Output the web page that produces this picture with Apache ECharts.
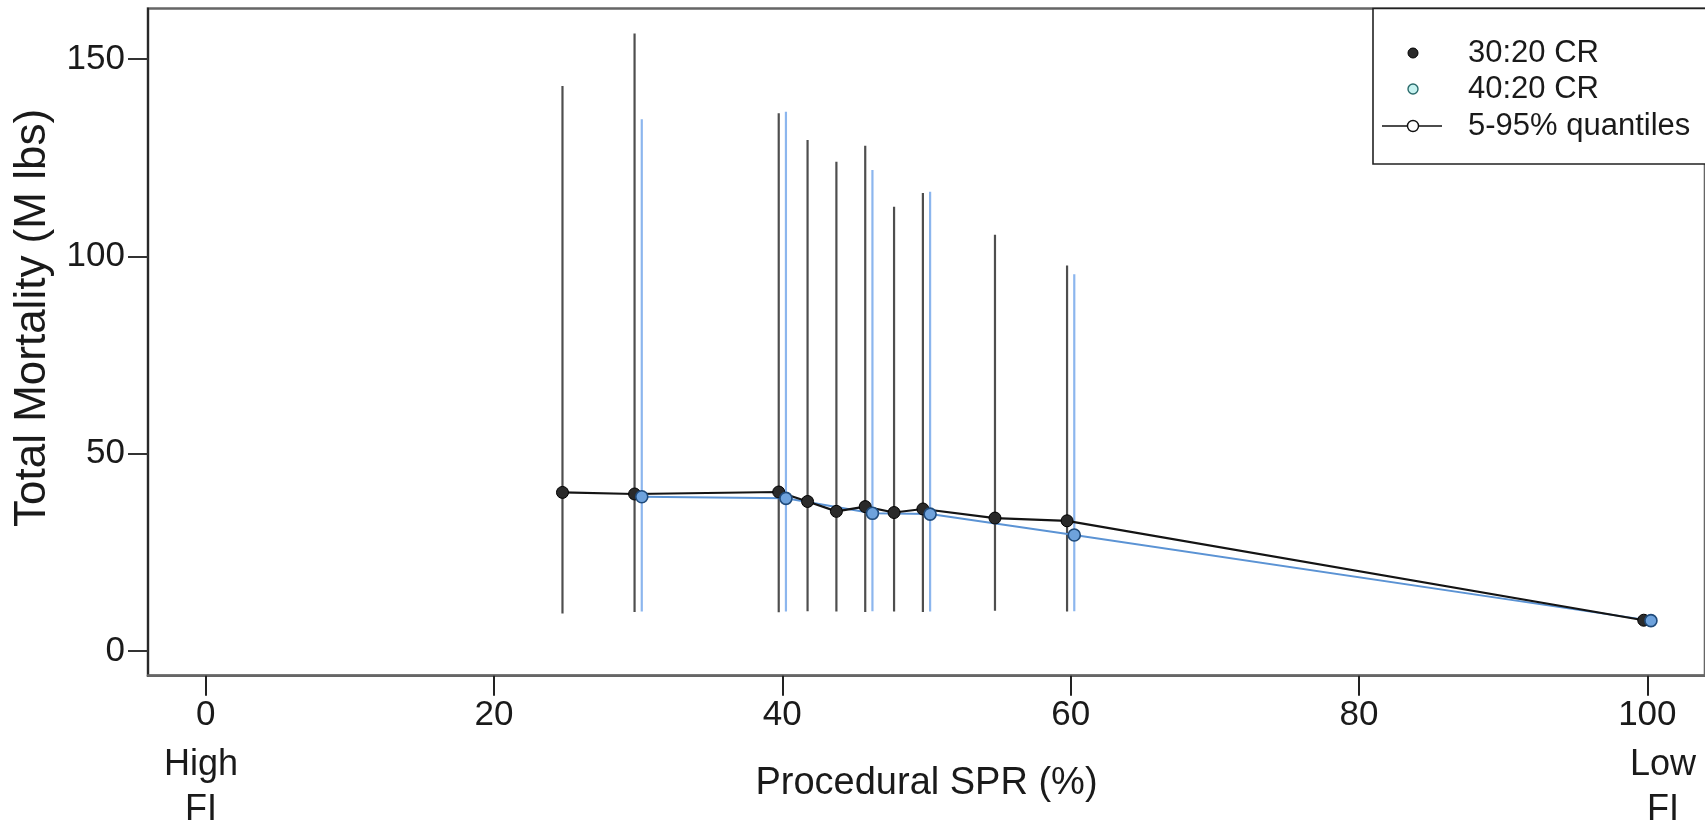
<!DOCTYPE html>
<html>
<head>
<meta charset="utf-8">
<script src="https://cdn.jsdelivr.net/npm/echarts@6/dist/echarts.min.js"></script>
<style>
  html, body { margin: 0; padding: 0; background: #fff; }
  #chart { width: 1705px; height: 830px; }
</style>
</head>
<body>
<div id="chart"></div>
<script>
// ---- data ----
const xTicks = [0, 20, 40, 60, 80, 100];
const yTicks = [0, 50, 100, 150];

// 30:20 CR (black)
const spr3020  = [24.75, 29.75, 39.75, 41.75, 43.75, 45.75, 47.75, 49.75, 54.75, 59.75, 99.75];
const mort3020 = [40.2, 39.8, 40.3, 37.9, 35.4, 36.6, 35.1, 36.0, 33.7, 33.0, 7.8];
const lo3020   = [9.5, 9.9, 9.8, 10.1, 10.0, 9.9, 10.0, 9.9, 10.2, 10.0, null];
const hi3020   = [143.2, 156.5, 136.3, 129.5, 124.0, 128.1, 112.6, 116.1, 105.5, 97.7, null];

// 40:20 CR (blue)
const spr4020  = [30.25, 40.25, 46.25, 50.25, 60.25, 100.25];
const mort4020 = [39.1, 38.7, 34.9, 34.7, 29.4, 7.7];
const lo4020   = [10.0, 10.0, 10.1, 10.0, 10.1, null];
const hi4020   = [134.8, 136.7, 121.9, 116.4, 95.5, null];

const legendLabels = ['30:20 CR', '40:20 CR', '5-95% quantiles'];

// ---- helpers ----
const FONT = "'Liberation Sans', Arial, sans-serif";
const TXT = '#1a1a1a';

function pts(xs, ys) { return xs.map((x, i) => [x, ys[i]]); }
function bars(xs, lo, hi) {
  return xs.map((x, i) => [x, lo[i], hi[i]]).filter(d => d[1] != null && d[2] != null);
}
function barRenderer(color, width) {
  return function (params, api) {
    const p1 = api.coord([api.value(0), api.value(1)]);
    const p2 = api.coord([api.value(0), api.value(2)]);
    return {
      type: 'line',
      shape: { x1: p1[0], y1: p1[1], x2: p2[0], y2: p2[1] },
      style: { stroke: color, lineWidth: width }
    };
  };
}

const chart = echarts.init(document.getElementById('chart'), null, { renderer: 'canvas' });

const option = {
  backgroundColor: '#fff',
  animation: false,
  grid: {
    left: 148, top: 8.5, right: -9, bottom: 154.3,
    show: true, borderColor: '#666', borderWidth: 2.6, backgroundColor: 'transparent'
  },
  xAxis: {
    type: 'value', min: -4, max: 104,
    name: 'Procedural SPR (%)', nameLocation: 'middle', nameGap: 89,
    nameTextStyle: { fontSize: 38, fontFamily: FONT, color: TXT },
    axisLine: { show: true, onZero: false, lineStyle: { color: '#666', width: 2.6 } },
    axisTick: { show: true, inside: false, length: 20, customValues: xTicks, lineStyle: { color: '#222', width: 2 } },
    axisLabel: { show: true, customValues: xTicks, fontSize: 35, fontFamily: FONT, color: TXT, margin: 22 },
    splitLine: { show: false }
  },
  yAxis: {
    type: 'value', min: -6.26, max: 162.86,
    axisLine: { show: true, onZero: false, lineStyle: { color: '#222', width: 1.8 } },
    axisTick: { show: true, inside: false, length: 20, customValues: yTicks, lineStyle: { color: '#333', width: 2 } },
    axisLabel: { show: true, customValues: yTicks, fontSize: 35, fontFamily: FONT, color: TXT, margin: 23 },
    splitLine: { show: false }
  },
  series: [
    {
      name: '30:20 CR quantiles', type: 'custom', z: 1,
      renderItem: barRenderer('#4e4e4e', 2.2),
      encode: { x: 0, y: [1, 2] },
      data: bars(spr3020, lo3020, hi3020)
    },
    {
      name: '40:20 CR quantiles', type: 'custom', z: 2,
      renderItem: barRenderer('#8cb6ee', 2.2),
      encode: { x: 0, y: [1, 2] },
      data: bars(spr4020, lo4020, hi4020)
    },
    {
      name: '40:20 CR line', type: 'line', z: 3, showSymbol: false,
      lineStyle: { color: '#5b93d4', width: 2 },
      data: pts(spr4020, mort4020)
    },
    {
      name: '30:20 CR line', type: 'line', z: 4, showSymbol: false,
      lineStyle: { color: '#141414', width: 2.2 },
      data: pts(spr3020, mort3020)
    },
    {
      name: '30:20 CR', type: 'scatter', z: 5, symbol: 'circle', symbolSize: 12,
      itemStyle: { color: '#2a2a2a', borderColor: '#000', borderWidth: 1, opacity: 1 },
      data: pts(spr3020, mort3020)
    },
    {
      name: '40:20 CR', type: 'scatter', z: 6, symbol: 'circle', symbolSize: 12,
      itemStyle: { color: '#6ea2dc', borderColor: '#1f4a7a', borderWidth: 1.6, opacity: 1 },
      data: pts(spr4020, mort4020)
    }
  ],
  graphic: [
    // y axis title
    {
      type: 'text', x: 33, y: 318, rotation: Math.PI / 2, z: 10,
      style: { text: 'Total Mortality (M lbs)', fontSize: 44, fontFamily: FONT, fill: TXT,
               align: 'center', verticalAlign: 'middle' }
    },
    // High / Low FI annotations
    {
      type: 'text', x: 201, y: 788, z: 10,
      style: { text: 'High\nFI', fontSize: 36, lineHeight: 45, fontFamily: FONT, fill: TXT,
               align: 'center', verticalAlign: 'middle' }
    },
    {
      type: 'text', x: 1663, y: 788, z: 10,
      style: { text: 'Low\nFI', fontSize: 36, lineHeight: 45, fontFamily: FONT, fill: TXT,
               align: 'center', verticalAlign: 'middle' }
    },
    // legend box
    {
      type: 'rect', z: 20,
      shape: { x: 1373, y: 8.5, width: 420, height: 155.5 },
      style: { fill: '#fff', stroke: '#222', lineWidth: 1.6 }
    },
    {
      type: 'circle', z: 21, shape: { cx: 1413, cy: 53, r: 5 },
      style: { fill: '#2a2a2a', stroke: '#000', lineWidth: 1 }
    },
    {
      type: 'circle', z: 21, shape: { cx: 1413, cy: 89, r: 5 },
      style: { fill: '#c6f2f0', stroke: '#2b6b6b', lineWidth: 1.4 }
    },
    {
      type: 'line', z: 21, shape: { x1: 1382, y1: 126, x2: 1442, y2: 126 },
      style: { stroke: '#111', lineWidth: 1.6 }
    },
    {
      type: 'circle', z: 22, shape: { cx: 1413, cy: 126, r: 5.5 },
      style: { fill: '#fff', stroke: '#111', lineWidth: 1.4 }
    },
    {
      type: 'text', x: 1468, y: 53, z: 21,
      style: { text: legendLabels[0], fontSize: 31, fontFamily: FONT, fill: TXT, verticalAlign: 'middle' }
    },
    {
      type: 'text', x: 1468, y: 89, z: 21,
      style: { text: legendLabels[1], fontSize: 31, fontFamily: FONT, fill: TXT, verticalAlign: 'middle' }
    },
    {
      type: 'text', x: 1468, y: 126, z: 21,
      style: { text: legendLabels[2], fontSize: 31, fontFamily: FONT, fill: TXT, verticalAlign: 'middle' }
    }
  ]
};

chart.setOption(option);
</script>
</body>
</html>
